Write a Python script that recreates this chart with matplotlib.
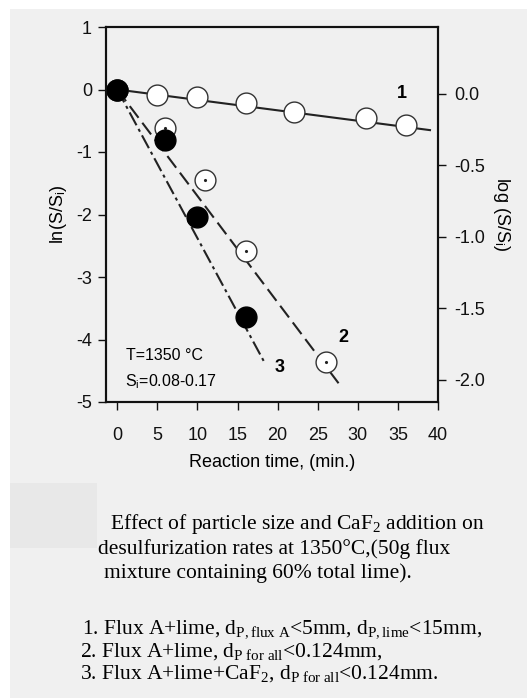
import matplotlib
matplotlib.use("Agg")
import matplotlib.pyplot as plt
from matplotlib.patches import Rectangle

# ---- data ----
t1 = [0, 5, 10, 16, 22, 31, 36]
y1 = [0.0, -0.08, -0.12, -0.22, -0.36, -0.46, -0.57]
t2 = [0, 6, 11, 16, 26]
y2 = [0.0, -0.62, -1.44, -2.58, -4.36]
t3 = [0, 6, 10, 16]
y3 = [0.0, -0.80, -2.04, -3.64]
fit1_x = [0, 39]
fit1_y = [0.0, -0.65]
fit2_x = [0, 27.6]
fit2_y = [0.0, -4.70]
fit3_x = [0, 18.5]
fit3_y = [0.0, -4.40]
x_ticks = [0, 5, 10, 15, 20, 25, 30, 35, 40]
y_ticks = [1, 0, -1, -2, -3, -4, -5]
log_ticks = [0.0, -0.5, -1.0, -1.5, -2.0]
log_labels = ['0.0', '-0.5', '-1.0', '-1.5', '-2.0']

W, H = 527, 698
bg = "#f0f0f0"
plt.rcParams['font.family'] = ['Liberation Sans', 'DejaVu Sans']
plt.rcParams['axes.unicode_minus'] = False
plt.rcParams['mathtext.fontset'] = 'custom'
plt.rcParams['mathtext.rm'] = 'Liberation Serif'
plt.rcParams['mathtext.it'] = 'Liberation Serif:italic'
plt.rcParams['mathtext.sf'] = 'Liberation Sans'

fig = plt.figure(figsize=(W / 100, H / 100), dpi=100)
fig.patch.set_facecolor("white")
fig.patches.append(Rectangle((10 / W, 0), 1 - 10 / W, 1 - 9 / H, transform=fig.transFigure,
                             facecolor=bg, edgecolor="none", zorder=-10))
fig.patches.append(Rectangle((10 / W, 1 - 548 / H), 87 / W, 65 / H, transform=fig.transFigure,
                             facecolor="#e8e8e8", edgecolor="none", zorder=-9))

ax = fig.add_axes([106 / W, 1 - 402 / H, 332 / W, 375 / H])
ax.set_facecolor(bg)
ax.set_xlim(-1.4, 40)
ax.set_ylim(-5, 1)
ax.set_xticks(x_ticks)
ax.set_yticks(y_ticks)
ax.tick_params(direction='out', length=6, width=1, labelsize=13, pad=4, colors='#111111')
ax.tick_params(axis='x', pad=12)
for s in ax.spines.values():
    s.set_linewidth(1.5)
    s.set_color('#111111')

# fit lines
ax.plot(fit1_x, fit1_y, color='#222222', lw=1.5, ls='-', zorder=2)
ax.plot(fit2_x, fit2_y, color='#222222', lw=1.5, ls=(0, (7, 3)), zorder=2)
ax.plot(fit3_x, fit3_y, color='#222222', lw=1.5, ls=(0, (7, 2, 1.5, 2)), zorder=2)

# markers
ax.plot(t1, y1, ls='none', marker='o', ms=15, mfc='white', mec='#333333', mew=1.0, zorder=3)
ax.plot(t2, y2, ls='none', marker='o', ms=15, mfc='white', mec='#333333', mew=1.0, zorder=3)
ax.plot(t2, y2, ls='none', marker='.', ms=2.5, color='#222222', zorder=4)
ax.plot(t3, y3, ls='none', marker='o', ms=15, mfc='black', mec='black', mew=1.0, zorder=5)

ax.text(35.5, -0.07, '1', fontsize=13, fontweight='bold', ha='center', va='center')
ax.text(28.2, -3.96, '2', fontsize=13, fontweight='bold', ha='center', va='center')
ax.text(20.2, -4.45, '3', fontsize=13, fontweight='bold', ha='center', va='center')
ax.text(1.1, -4.25, 'T=1350 \u00b0C', fontsize=11.5, ha='left', va='center')
ax.text(1.0, -4.68, 'S$_{\\mathsf{i}}$=0.08-0.17', fontsize=11.5, ha='left', va='center')

ax.set_xlabel('Reaction time, (min.)', fontsize=13, labelpad=7)
ax.set_ylabel('ln(S/S$_{\\mathsf{i}}$)', fontsize=13, labelpad=5)

ax2 = ax.twinx()
ax2.set_ylim(-2.154, 0.468)
ax2.set_yticks(log_ticks)
ax2.set_yticklabels(log_labels)
ax2.tick_params(direction='out', length=6, width=1, labelsize=13, pad=6, colors='#111111')
ax2.set_ylabel('log (S/S$_{\\mathsf{i}}$)', fontsize=13, rotation=270, labelpad=19)
for s in ax2.spines.values():
    s.set_linewidth(1.5)
    s.set_color('#111111')

serif = ['Liberation Serif', 'DejaVu Serif']
fs = 15.5
fig.text(110 / W, 1 - 524 / H, 'Effect of particle size and CaF$_2$ addition on',
         fontsize=fs, family=serif, va='center', ha='left')
fig.text(98 / W, 1 - 549 / H, 'desulfurization rates at 1350\u00b0C,(50g flux',
         fontsize=fs, family=serif, va='center', ha='left')
fig.text(104 / W, 1 - 573 / H, 'mixture containing 60% total lime).',
         fontsize=fs, family=serif, va='center', ha='left')
fig.text(82 / W, 1 - 629 / H,
         '1. Flux A+lime, d$_{\\rm P,flux\\ A}$<5mm, d$_{\\rm P,lime}$<15mm,',
         fontsize=fs, family=serif, va='center', ha='left')
fig.text(80 / W, 1 - 652 / H, '2. Flux A+lime, d$_{\\rm P\\ for\\ all}$<0.124mm,',
         fontsize=fs, family=serif, va='center', ha='left')
fig.text(80 / W, 1 - 674 / H, '3. Flux A+lime+CaF$_2$, d$_{\\rm P\\ for\\ all}$<0.124mm.',
         fontsize=fs, family=serif, va='center', ha='left')

fig.savefig('out.png', dpi=100, facecolor=fig.get_facecolor())
